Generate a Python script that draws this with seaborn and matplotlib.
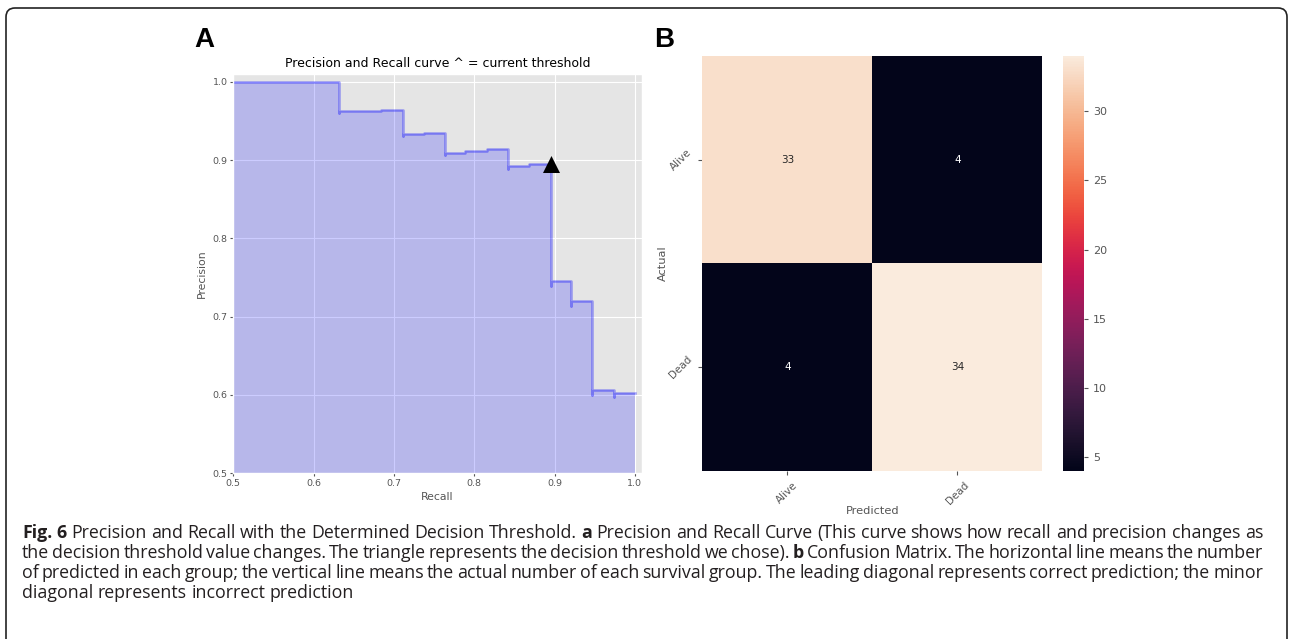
import numpy as np
import pandas as pd
import seaborn as sns
import matplotlib.pyplot as plt
from matplotlib.patches import FancyBboxPatch
from matplotlib.transforms import IdentityTransform

# --- panel A: precision / recall step curve (recall decreasing, sklearn order)
recall = [1.000, 0.974, 0.974, 0.947, 0.947, 0.921, 0.921, 0.895, 0.895,
          0.868, 0.842, 0.842, 0.816, 0.789, 0.763, 0.763, 0.737, 0.711,
          0.711, 0.684, 0.658, 0.632, 0.632, 0.000]
precision = [0.603, 0.597, 0.607, 0.600, 0.720, 0.714, 0.745, 0.739, 0.895,
             0.892, 0.889, 0.914, 0.912, 0.909, 0.906, 0.935, 0.933, 0.931,
             0.964, 0.963, 0.962, 0.960, 1.000, 1.000]
threshold_recall = [0.895]
threshold_precision = [0.895]

# --- panel B: confusion matrix
class_labels = ['Alive', 'Dead']
confusion = [[33, 4],
             [4, 34]]

caption_lines = [
    [("Fig. 6", True), ("Precision and Recall with the Determined Decision Threshold.", False),
     ("a", True), ("Precision and Recall Curve (This curve shows how recall and precision changes as", False)],
    [("the decision threshold value changes. The triangle represents the decision threshold we chose).", False),
     ("b", True), ("Confusion Matrix. The horizontal line means the number", False)],
    [("of predicted in each group; the vertical line means the actual number of each survival group. "
      "The leading diagonal represents correct prediction; the minor", False)],
    [("diagonal represents incorrect prediction", False)],
]

plt.style.use('ggplot')
plt.rcParams['font.family'] = ['DejaVu Sans']

W, H = 1289, 639
fig = plt.figure(figsize=(W / 100, H / 100), dpi=100)
fig.patch.set_facecolor('white')


def box(l, t, r, b):
    return [l / W, 1 - b / H, (r - l) / W, (b - t) / H]


# ---------------- A
ax_a = fig.add_axes(box(233.3, 74.3, 641.7, 473.3))
ax_a.fill_between(recall, precision, step='post', alpha=0.2, color='b', linewidth=0)
sns.lineplot(x=recall, y=precision, ax=ax_a, estimator=None, sort=False,
             drawstyle='steps-post', color='b', alpha=0.35, linewidth=1.8)
sns.scatterplot(x=threshold_recall, y=threshold_precision, ax=ax_a, marker='^',
                s=150, color='k', edgecolor='k', linewidth=0, zorder=5)
ax_a.set_xlim(0.5, 1.0085)
ax_a.set_ylim(0.5, 1.0095)
ax_a.set_xticks([0.5, 0.6, 0.7, 0.8, 0.9, 1.0])
ax_a.set_yticks([0.5, 0.6, 0.7, 0.8, 0.9, 1.0])
ax_a.tick_params(labelsize=6.8, length=2, width=0.8, colors='#555555', pad=2)
ax_a.set_title("Precision and Recall curve ^ = current threshold", fontsize=9, color='k', pad=5)
ax_a.set_xlabel("Recall", fontsize=7.8, color='#555555', labelpad=3)
ax_a.set_ylabel("Precision", fontsize=7.8, color='#555555', labelpad=4)

# ---------------- B
ax_b = fig.add_axes(box(702.3, 56, 1042.3, 470.7))
cax = fig.add_axes(box(1063.3, 56, 1084, 470.7))
cm_df = pd.DataFrame(confusion, index=class_labels, columns=class_labels)
sns.heatmap(cm_df, annot=True, fmt='d', ax=ax_b, cbar_ax=cax,
            annot_kws={'fontsize': 7.5})
ax_b.grid(False)
ax_b.set_xticklabels(class_labels, rotation=45, fontsize=7.5, color='#555555')
ax_b.set_yticklabels(class_labels, rotation=45, fontsize=7.5, color='#555555')
ax_b.tick_params(length=3, colors='#555555')
ax_b.set_xlabel("Predicted", fontsize=8.2, color='#555555', labelpad=0)
ax_b.set_ylabel("Actual", fontsize=8.2, color='#555555', labelpad=-1)
cax.tick_params(labelsize=8, length=3, colors='#555555')
cax.grid(False)

# panel letters
fig.text(194 / W, 1 - 47 / H, "A", fontsize=20, fontweight='bold',
         family=['Liberation Sans', 'DejaVu Sans'], va='baseline')
fig.text(654 / W, 1 - 47 / H, "B", fontsize=20, fontweight='bold',
         family=['Liberation Sans', 'DejaVu Sans'], va='baseline')

# rounded frame
frame = FancyBboxPatch((6, -20), 1281, 651, boxstyle="round,pad=0,rounding_size=9",
                       transform=IdentityTransform(), facecolor='none',
                       edgecolor='#222222', linewidth=1.2, clip_on=False)
fig.add_artist(frame)

# ---------------- caption (justified, word by word)
renderer = fig.canvas.get_renderer()
cap_family = ['Open Sans', 'DejaVu Sans']


def word_width(s, bold, size):
    t = fig.text(0, 0, s, fontsize=size, fontweight='bold' if bold else 'normal',
                 family=cap_family)
    w = t.get_window_extent(renderer).width
    t.remove()
    return w


def split_words(line):
    words = []
    for seg, bold in line:
        for w in seg.split(' '):
            if w:
                words.append((w, bold))
    return words


left, right = 22, 1263
ref_size = 10.0
words0 = split_words(caption_lines[0])
space0 = word_width("n n", False, ref_size) - word_width("nn", False, ref_size)
natural = sum(word_width(w, b, ref_size) for w, b in words0) + space0 * (len(words0) - 1)
cap_size = ref_size * (right - left) / natural
space = space0 * cap_size / ref_size

baselines = [538, 558, 578, 598]
for i, line in enumerate(caption_lines):
    words = split_words(line)
    widths = [word_width(w, b, cap_size) for w, b in words]
    if i < len(caption_lines) - 1 and len(words) > 1:
        gap = (right - left - sum(widths)) / (len(words) - 1)
    else:
        gap = space
    x = left
    for (w, b), wd in zip(words, widths):
        fig.text(x / W, 1 - baselines[i] / H, w, fontsize=cap_size,
                 fontweight='bold' if b else 'normal', family=cap_family,
                 va='baseline', ha='left', color='#231f20')
        x += wd + gap

fig.savefig('out.png', dpi=100, facecolor='white')
